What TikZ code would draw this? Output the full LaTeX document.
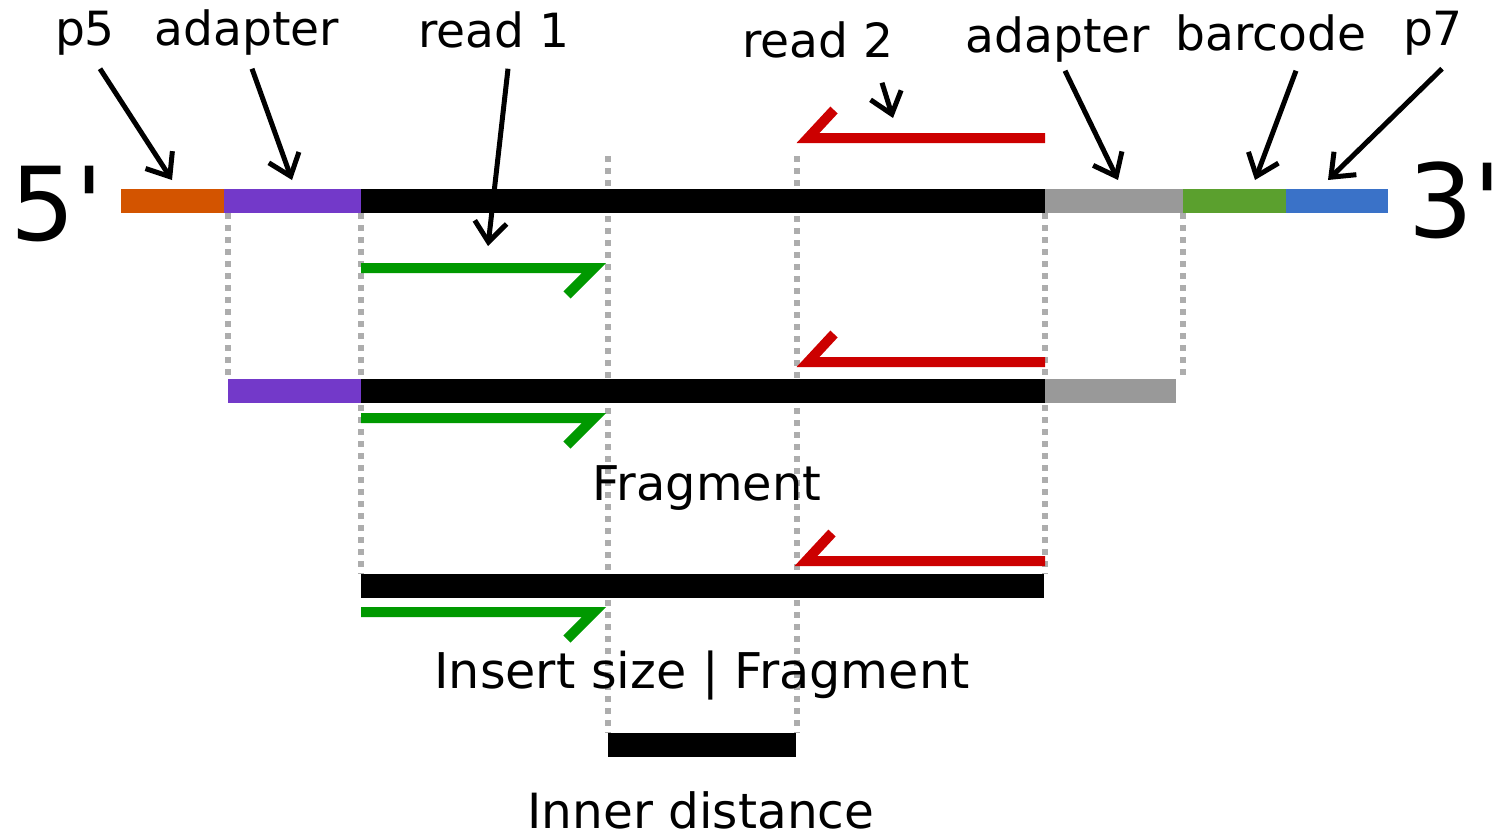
\documentclass[tikz,border=0pt]{standalone}
\usepackage{fontspec}
\setmainfont{DejaVu Sans}
\usetikzlibrary{calc,arrows.meta}
\definecolor{pfive}{HTML}{D35400}
\definecolor{adapt}{HTML}{7339C9}
\definecolor{adgray}{HTML}{999999}
\definecolor{barcode}{HTML}{5BA02E}
\definecolor{pseven}{HTML}{3A72C8}
\definecolor{readone}{HTML}{009900}
\definecolor{readtwo}{HTML}{CC0000}
\definecolor{guide}{HTML}{ADADAD}

\begin{document}
\begin{tikzpicture}[x=0.01cm,y=-0.01cm,
		bar/.style={line width=0.24cm},
		readline/.style={line width=0.1cm,line join=miter,miter limit=10},
		guideline/.style={guide,line width=0.06cm,dash pattern=on 0.06cm off 0.06cm},
		lbl/.style={font=\fontsize{13.4}{16}\selectfont,anchor=base,inner sep=2pt,text depth=0pt},
		pointer/.style={line width=0.05cm,-{Straight Barb[length=0.2cm,width=0.32cm]}}]
				\useasboundingbox (0,0) rectangle (1503,836);
				
				\coordinate (t0) at (121,201);
				\coordinate (t1) at (224,201);
				\coordinate (t2) at (361,201);
				\coordinate (t3) at (1045,201);
				\coordinate (t4) at (1183,201);
				\coordinate (t5) at (1286,201);
				\coordinate (t6) at (1388,201);
				
				% guides behind the bars
				\foreach \x/\ya/\yb in {228/213/379,361/213/574,608/156/733,797/156/733,1045/213/574,1183/213/379}{
					\draw[guideline] (\x,\ya) -- (\x,\yb);}
				
				\foreach \s/\e/\c in {t0/t1/pfive,t1/t2/adapt,t2/t3/black,t3/t4/adgray,t4/t5/barcode,t5/t6/pseven}{
					\draw[bar,\c] (\s) -- (\e);}
				
				\draw[bar,adapt] (228,391) -- (361,391);
				\draw[bar,black] (361,391) -- (1045,391);
				\draw[bar,adgray] (1045,391) -- (1176,391);
				\draw[bar,black] (361,586) -- (1044,586);
				\draw[bar,black] (608,745) -- (796,745);
				
				% reads
				\foreach \y in {268,418,612}{
					\draw[readline,readone] (361,\y) -- (594,\y) -- (567,\y+27);}
				\foreach \y/\xl in {138/808,362/808,561/806}{
					\draw[readline,readtwo] (1045,\y) -- (\xl,\y) -- (\xl+26,\y-28);}
				
				\node[font=\fontsize{29}{34}\selectfont,anchor=base] (five) at (57,240) {5\textquotesingle};
				\node[font=\fontsize{29}{34}\selectfont,anchor=base] (three) at (1455,237) {3\textquotesingle};
				
				\node[lbl] (p5) at (85,45) {p5};
				\node[lbl] (ad5) at (247,45) {adapter};
				\node[lbl] (rd1) at (494,47) {read 1};
				\node[lbl] (rd2) at (818,57) {read 2};
				\node[lbl] (ad7) at (1058,52) {adapter};
				\node[lbl] (bc) at (1271,50) {barcode};
				\node[lbl] (p7) at (1433,45) {p7};
				
				\coordinate (p5-tip) at (172,180);
				\coordinate (ad5-tip) at (292,180);
				\coordinate (rd1-tip) at (488,246);
				\coordinate (rd2-tip) at (893,118);
				\coordinate (ad7-tip) at (1118,180);
				\coordinate (bc-tip) at (1255,180);
				\coordinate (p7-tip) at (1328,180);
				
				\foreach \n/\dx/\dy in {p5/15/16,ad5/5/16,rd1/14/14,rd2/64/18,ad7/7/11,bc/25/13,p7/9/16}{
					\draw[pointer] ($(\n.south)+(\dx,\dy)$) -- (\n-tip);}
				
				\node[lbl,font=\fontsize{13.6}{16}\selectfont] (frag) at (707,500) {Fragment};
				\node[lbl,font=\fontsize{14}{17}\selectfont] (ins) at (702,688) {Insert size | Fragment};
				\node[lbl,font=\fontsize{13.8}{16}\selectfont,inner sep=0pt] (inner) at (701,828) {Inner distance};
\end{tikzpicture}
\end{document}
